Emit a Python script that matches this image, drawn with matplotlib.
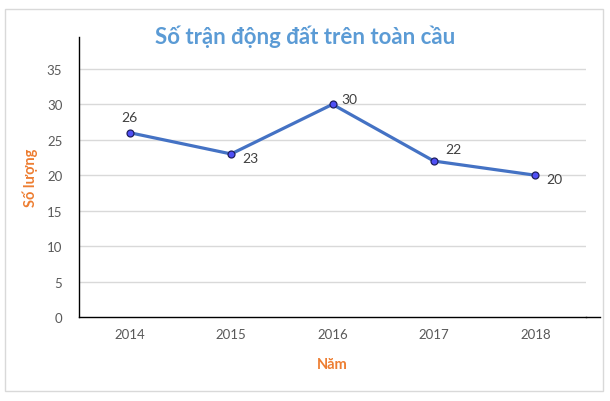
import numpy as np
import matplotlib.pyplot as plt
import matplotlib as mpl
from matplotlib.patches import Rectangle

plt.rcParams['font.family'] = ['Lato', 'Noto Sans', 'DejaVu Sans']

years = ['2014', '2015', '2016', '2017', '2018']
counts = [26, 23, 30, 22, 20]
# where each data label sits relative to its point (points)
label_offsets = [(0, 11), (14, -3), (12, 4), (14, 9), (14, -3)]
yticks = [0, 5, 10, 15, 20, 25, 30, 35]

fig = plt.figure(figsize=(6.1, 4.02), dpi=100)
ax = fig.add_axes([79 / 610, 84 / 402, 507 / 610, 280 / 402])

x = np.arange(len(years))
ax.plot(x, counts, color='#4472C4', linewidth=2.3, zorder=3)
ax.plot(x, counts, linestyle='none', marker='o', markersize=5,
        markerfacecolor='#4F4FF5', markeredgecolor='#1F1F5F',
        markeredgewidth=0.9, zorder=4)

for xi, yi, off in zip(x, counts, label_offsets):
    ax.annotate(str(yi), (xi, yi), xytext=off, textcoords='offset points',
                ha='center', va='center', fontsize=10, color='#404040')

ax.set_xlim(-0.5, 4.5)
ax.set_ylim(0, 39.5)
ax.set_xticks(x)
ax.set_xticklabels(years)
ax.set_yticks(yticks)
ax.tick_params(axis='both', length=0, labelsize=9.5, colors='#595959', pad=8)
ax.tick_params(axis='y', pad=12)

for yt in yticks[1:]:
    ax.axhline(yt, color='#D9D9D9', linewidth=1, zorder=1)

for side in ['top', 'right']:
    ax.spines[side].set_visible(False)
ax.spines['left'].set_color('black')
ax.spines['bottom'].set_color('black')
ax.spines['left'].set_linewidth(1)
ax.spines['bottom'].set_linewidth(1)
# bottom axis line runs a little past the gridlines
ax.plot([1.0, 1.028], [0, 0], transform=ax.transAxes, color='black',
        linewidth=1, clip_on=False)

ax.set_xlabel('Năm', color='#ED7D31', fontsize=10.5, fontweight='bold', labelpad=12)
ax.set_ylabel('Số lượng', color='#ED7D31', fontsize=10.5, fontweight='bold', labelpad=6)

fig.text(305 / 610, 1 - 37 / 402, 'Số trận động đất trên toàn cầu', ha='center',
         va='center', fontsize=16, fontweight='bold', color='#5B9BD5')

# chart area border
fig.patches.append(Rectangle((5 / 610, 10 / 402), 598 / 610, 382 / 402,
                             transform=fig.transFigure, fill=False,
                             edgecolor='#D9D9D9', linewidth=1))

fig.savefig('out.png', dpi=100)
